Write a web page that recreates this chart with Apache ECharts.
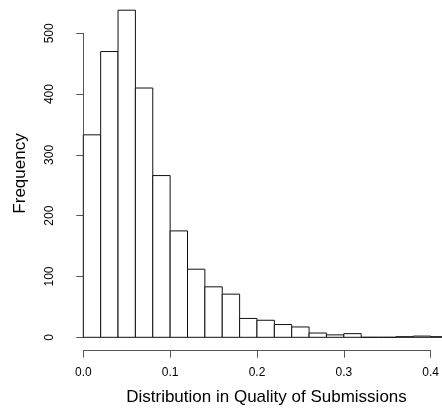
<!DOCTYPE html>
<html>
<head>
<meta charset="utf-8">
<script src="https://cdn.jsdelivr.net/npm/echarts@6/dist/echarts.min.js"></script>
<style>
html,body{margin:0;padding:0;background:#fff;}
#chart{width:442px;height:409px;}
</style>
</head>
<body>
<div id="chart"></div>
<script>
// Histogram bin edges (left edges) and bin width
const binStarts = [0.00, 0.02, 0.04, 0.06, 0.08, 0.10, 0.12, 0.14, 0.16, 0.18, 0.20,
                   0.22, 0.24, 0.26, 0.28, 0.30, 0.32, 0.34, 0.36, 0.38, 0.40];
const binWidth = 0.02;
// Frequencies per bin
const counts = [333, 470, 538, 410, 266, 175, 112, 83, 71, 31, 28,
                21, 17, 7, 4, 6, 0, 0, 1, 2, 1];
// Tick labels
const xTicks = ['0.0', '0.1', '0.2', '0.3', '0.4'];
const yTicks = ['0', '100', '200', '300', '400', '500'];
const xTitle = 'Distribution in Quality of Submissions';
const yTitle = 'Frequency';

const data = binStarts.map((s, i) => [s, s + binWidth, counts[i]]);
const FONT = "'Liberation Sans', Arial, Helvetica, sans-serif";

const chart = echarts.init(document.getElementById('chart'), null, {renderer: 'canvas'});
chart.setOption({
  animation: false,
  backgroundColor: '#ffffff',
  grid: {left: 83.3, right: 10.3, top: 33.3, bottom: 71.7, containLabel: false},
  xAxis: {
    type: 'value', min: 0, max: 0.4, interval: 0.1,
    offset: 13.4,
    axisLine: {show: true, onZero: false, lineStyle: {color: '#555', width: 1}},
    axisTick: {show: true, length: 7, lineStyle: {color: '#555', width: 1}},
    splitLine: {show: false},
    axisLabel: {
      margin: 16, color: '#000', fontSize: 12, fontFamily: FONT,
      formatter: v => xTicks[Math.round(v * 10)]
    }
  },
  yAxis: {
    type: 'value', min: 0, max: 500, interval: 100,
    offset: 14,
    axisLine: {show: true, lineStyle: {color: '#555', width: 1}},
    axisTick: {show: true, length: 7, lineStyle: {color: '#555', width: 1}},
    splitLine: {show: false},
    axisLabel: {
      rotate: 90, margin: 14, color: '#000', fontSize: 12, fontFamily: FONT,
      formatter: v => yTicks[Math.round(v / 100)]
    }
  },
  graphic: [
    {type: 'text', x: 266.5, y: 397,
     style: {text: xTitle, font: '17px ' + FONT, fill: '#000', align: 'center', verticalAlign: 'middle'}},
    {type: 'text', x: 20, y: 173.5, rotation: Math.PI / 2,
     style: {text: yTitle, font: '17px ' + FONT, fill: '#000', align: 'center', verticalAlign: 'middle'}}
  ],
  series: [{
    type: 'custom',
    clip: false,
    data: data,
    encode: {x: [0, 1], y: 2},
    renderItem: function (params, api) {
      const p0 = api.coord([api.value(0), api.value(2)]);
      const p1 = api.coord([api.value(1), 0]);
      return {
        type: 'rect',
        shape: {x: p0[0], y: p0[1], width: p1[0] - p0[0], height: p1[1] - p0[1]},
        style: {fill: '#ffffff', stroke: '#111', lineWidth: 1}
      };
    }
  }]
});
</script>
</body>
</html>
